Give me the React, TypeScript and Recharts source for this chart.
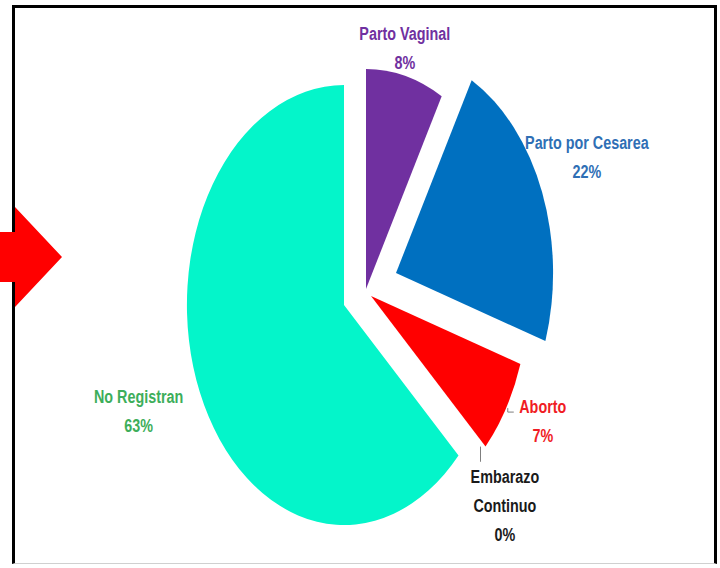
import React from 'react';
import { PieChart, Pie, Cell, Sector } from 'recharts';

// data (percent of cases)
const CATEGORIES = ['Parto Vaginal', 'Parto por Cesarea', 'Aborto', 'Embarazo Continuo', 'No Registran'];
const VALUES = [8, 22, 7, 0, 63];

const SLICE_COLORS = ['#7030A0', '#0070C0', '#FF0000', '#7F7F7F', '#04F5CA'];
const LABEL_COLORS = ['#7030A0', '#2F6FB5', '#F01C24', '#1A1A1A', '#3DAE5A'];

// exploded slices, pixel offsets
const EXPLODE: [number, number][] = [[22, -16], [52, -32], [27, -9], [27, -9], [0, 0]];
// label nudges from the default label anchor
const LABEL_NUDGE: [number, number][] = [[10, 21], [53, -42], [23, -29], [12, 5], [-18, -7]];
const WRAPPED = ['Embarazo Continuo'];
const WITH_LEADER = ['Aborto', 'Embarazo Continuo'];

const W = 720;
const H = 568;
const CX = 344;
const CY = 305;
const R = 220;
const SQUASH = 0.714; // the pie in the picture is squeezed sideways
const LABEL_R = 286;
const LINE_H = 29;
const FONT = '"Liberation Sans", Arial, sans-serif';

const chartData = CATEGORIES.map((name, i) => ({ name, value: VALUES[i] }));

const renderSlice = (props: any) => {
  const name = props.name ?? props.payload?.name;
  const i = CATEGORIES.indexOf(name);
  const [dx, dy] = EXPLODE[i] ?? [0, 0];
  const { cx, cy } = props;
  return (
    <g transform={`translate(${dx} ${dy}) translate(${cx} ${cy}) scale(${SQUASH} 1) translate(${-cx} ${-cy})`}>
      <Sector {...props} stroke="none" />
    </g>
  );
};

const renderLabel = (props: any) => {
  const { cx, cy, midAngle, index, percent } = props;
  const rad = (midAngle * Math.PI) / 180;
  const [nx, ny] = LABEL_NUDGE[index];
  const x = cx + SQUASH * LABEL_R * Math.cos(rad) + nx;
  const y = cy - LABEL_R * Math.sin(rad) + ny;
  const name = CATEGORIES[index];
  const lines = [...(WRAPPED.includes(name) ? name.split(' ') : [name]), `${Math.round(percent * 100)}%`];
  const firstY = y - ((lines.length - 1) / 2) * LINE_H;

  let leader = null;
  if (WITH_LEADER.includes(name)) {
    const [dx, dy] = EXPLODE[index];
    const px = cx + SQUASH * R * Math.cos(rad) + dx;
    const py = cy - R * Math.sin(rad) + dy;
    if (lines.length > 2) {
      leader = <polyline points={`${px - 5},${py} ${px - 5},${firstY - 15}`} fill="none" stroke="#7F7F7F" strokeWidth={1} />;
    } else {
      const left = x - 26;
      leader = <polyline points={`${left - 9},${firstY + 1} ${left - 9},${firstY + 5} ${left - 3},${firstY + 5}`} fill="none" stroke="#7F7F7F" strokeWidth={1} />;
    }
  }

  return (
    <g>
      {leader}
      {lines.map((t, j) => (
        <text
          key={j}
          x={0}
          y={0}
          transform={`translate(${x} ${firstY + j * LINE_H}) scale(0.82 1)`}
          textAnchor="middle"
          dominantBaseline="central"
          fill={LABEL_COLORS[index]}
          fontSize={17.5}
          fontWeight="bold"
          fontFamily={FONT}
        >
          {t}
        </text>
      ))}
    </g>
  );
};

export default function App() {
  return (
    <div style={{ position: 'absolute', left: 0, top: 0, width: W, height: H, background: '#fff', overflow: 'hidden' }}>
      <div
        style={{
          position: 'absolute',
          left: 12,
          top: 5,
          width: 705,
          height: 559,
          boxSizing: 'border-box',
          borderTop: '3px solid #000',
          borderLeft: '3px solid #000',
          borderRight: '3px solid #000',
          borderBottom: '1px solid #d0d0d0',
        }}
      />
      <div style={{ position: 'absolute', left: 0, top: 0 }}>
        <PieChart width={W} height={H} margin={{ top: 0, right: 0, bottom: 0, left: 0 }}>
          <Pie
            data={chartData}
            dataKey="value"
            nameKey="name"
            cx={CX}
            cy={CY}
            outerRadius={R}
            startAngle={90}
            endAngle={-270}
            stroke="none"
            shape={renderSlice}
            label={renderLabel}
            labelLine={false}
            isAnimationActive={false}
          >
            {chartData.map((d, i) => (
              <Cell key={d.name} fill={SLICE_COLORS[i]} />
            ))}
          </Pie>
        </PieChart>
      </div>
      <svg width={W} height={H} style={{ position: 'absolute', left: 0, top: 0, pointerEvents: 'none' }}>
        <polygon points="0,232 15,232 15,207 62,257 15,307 15,282 0,282" fill="#FF0000" />
      </svg>
    </div>
  );
}
